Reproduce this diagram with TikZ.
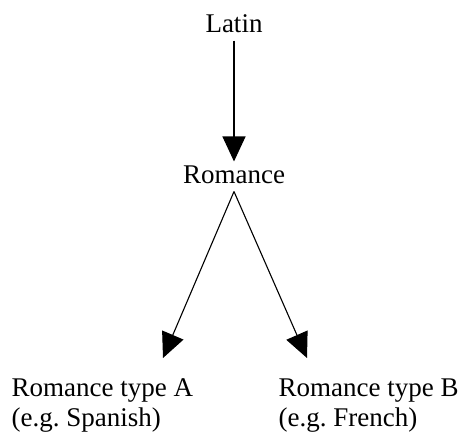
\documentclass[tikz,border=0pt]{standalone}
\usepackage{fontspec}
\setmainfont{Liberation Serif}
\usetikzlibrary{arrows.meta}
\frenchspacing

\begin{document}
\begin{tikzpicture}[x=1pt, y=-1pt, >={Triangle[length=25pt,width=23pt]}, line width=1.1pt]
  % Styles
  \tikzstyle{lang}=[inner sep=2pt, text height=19pt, text depth=6pt, font=\fontsize{27}{30}\selectfont]
  \tikzstyle{leaf}=[inner sep=0pt, align=left, anchor=north west, font=\fontsize{27}{30}\selectfont]

  \useasboundingbox (0,0) rectangle (464,437);

  % Top of the tree
  \node[lang, anchor=base] (latin) at (234,32) {Latin};
  \node[lang, anchor=base] (romance) at (234,183) {Romance};
  \draw[->] (latin) -- (romance);

  % Leaves
  \node[leaf] (typeA) at (11,378) {Romance type A\\(e.g. Spanish)};
  \node[leaf] (typeB) at (278,378) {Romance type B\\(e.g. French)};

  \coordinate (tipA) at (163,358);
  \coordinate (tipB) at (307,358);
  \draw[->] (romance.south) -- (tipA);
  \draw[->] (romance.south) -- (tipB);
\end{tikzpicture}
\end{document}
